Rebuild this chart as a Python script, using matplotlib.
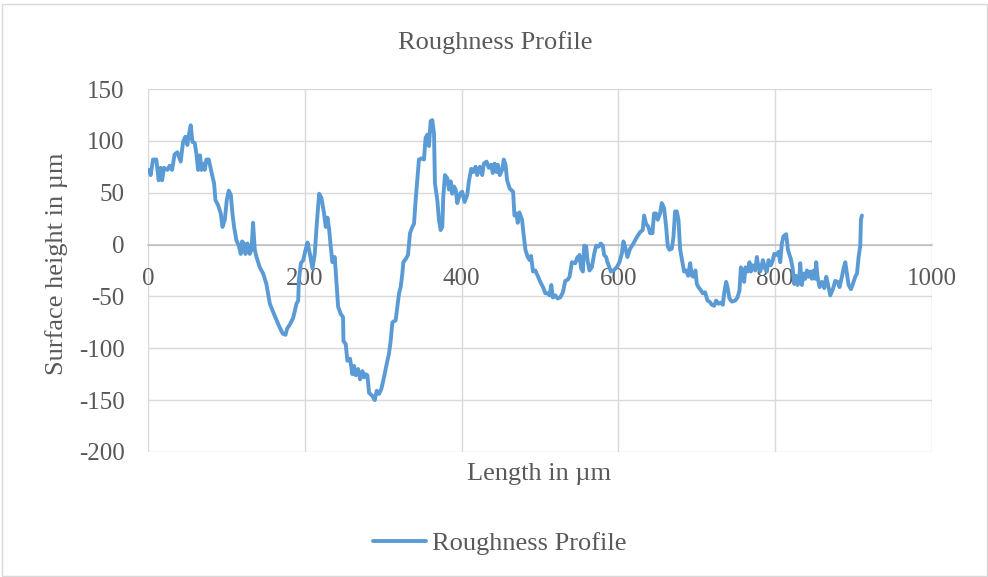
import matplotlib
matplotlib.use("Agg")
from matplotlib import pyplot as plt
from matplotlib.patches import Rectangle

plt.rcParams['font.family'] = ['Liberation Serif', 'DejaVu Serif']
plt.rcParams['axes.unicode_minus'] = False

# profile, in four stretches
x_a = [1, 3.4, 6.4, 10.6, 13.6, 16, 18, 20.4, 24.7, 27.7,
       30.6, 34, 37.5, 41.7, 44.7, 47.7, 50.2, 52.4, 54.5, 56.6,
       59.6, 61.7, 63.9, 66.4, 68, 70.7, 72.4, 74.5, 77.5, 80.9,
       84.3, 86, 89.4, 92.8, 95, 98, 100.5, 103, 105.6, 107.7,
       109.8, 112.8, 115.8, 118.3, 120, 122.6, 124.3, 126.9, 129.8, 132,
       134, 136.2, 138.4, 142.6, 146.9, 151, 155.4, 159.6, 164, 168,
       172, 175.4, 177.5, 181, 185, 187.3, 189.4, 191.6, 192.4, 195]
y_a = [72, 67, 82, 82, 62, 74, 62, 74, 72, 76,
       72, 87, 89, 80, 99, 104, 96, 107, 115, 99,
       98, 88, 72, 86, 72, 78, 72, 82, 82, 70,
       59, 43, 38, 30, 17, 24, 43, 52, 48, 30,
       17, 4, -1, -9, 3, 1, -9, 1, -9, -5,
       21, -5, -12, -22, -28, -38, -57, -65, -73, -80,
       -86, -87, -81, -77, -71, -64, -57, -54, -35, -18]

x_b = [198, 201, 203.5, 206.5, 209.8, 212.7, 215.3, 218.3, 221.2, 224.6,
       226.7, 228.9, 231, 233.1, 235.2, 238.2, 240.3, 242.5, 245.9, 248.8,
       249.3, 252.2, 254.3, 257.7, 260.7, 262.8, 265, 268, 270.5, 273.5,
       275.6, 277.7, 279.8, 282, 286.2, 289.2, 291.7, 294.7, 297.7, 301,
       304.5, 307.4, 309.5, 311.7, 315.9, 318, 320.2, 322.3, 324.4, 325.7,
       328.7, 331.6, 334.2, 337.2, 339.3, 341.4, 343.5, 345.6, 348.6, 352,
       354.1, 356.3, 358.4, 360.5, 362.6, 364.8, 366, 369, 371.1, 373.2,
       375.4, 376.6, 378.8, 381.7, 383.9, 386, 388.1, 390.2, 392.4, 394.5,
       397.9]
y_b = [-15, -5, 2, -9, -23, -9, 20, 49, 45, 30,
       17, 26, 15, -2, -17, -12, -35, -60, -67, -70,
       -93, -96, -112, -110, -125, -117, -126, -120, -130, -122,
       -128, -125, -126, -143, -146, -150, -141, -144, -139, -128,
       -115, -105, -93, -75, -73, -60, -47, -41, -28, -17,
       -14, -10, 11, 17, 20, 43, 62, 82, 83, 82,
       103, 106, 95, 119, 120, 107, 59, 43, 24, 14,
       17, 46, 67, 64, 53, 61, 49, 56, 53, 40,
       49]

x_c = [400.8, 403.8, 407.2, 409.3, 412.3, 414.8, 417.8, 419.9, 423.3, 426.3,
       428.4, 431.8, 434.7, 437.7, 439.8, 442, 444.5, 446.2, 448.7, 451.7,
       453.8, 456, 458, 461.4, 465.7, 467.4, 469.9, 471.6, 473.7, 477.1,
       479.2, 481.4, 484.3, 486.9, 488.6, 491.1, 494.1, 497, 500.4, 503.8,
       506.8, 509.7, 512.3, 514.4, 516.5, 519.5, 522.5, 525.8, 529.2, 532.2,
       535.2, 537.7, 540.7, 544.9, 547.9, 549.2, 550.4, 552.5, 554.7, 556.4,
       558.9, 560.6, 563.1, 566.1, 569.1, 571.6, 574.6, 577.5, 580.1, 581.8,
       584.3, 586, 588.6, 590.3, 593.6, 597.9]
y_c = [51, 41, 48, 61, 73, 70, 75, 67, 75, 67,
       78, 80, 74, 77, 69, 78, 70, 77, 67, 72,
       82, 77, 62, 54, 51, 28, 30, 21, 31, 24,
       9, -5, -12, -15, -11, -26, -25, -30, -36, -41,
       -47, -47, -49, -39, -51, -49, -52, -51, -46, -35,
       -34, -31, -17, -18, -12, -15, -10, -23, -26, -1,
       -2, -15, -25, -22, -9, -1, -2, 1, -1, -10,
       -12, -17, -22, -26, -25, -22]

x_d = [601.3, 604.3, 606.4, 608.5, 611.5, 614.9, 619.1, 623.4, 627.7, 631,
       632.8, 635.3, 638.3, 640.4, 643.4, 645.5, 648.1, 650.2, 653.2, 655.3,
       658.3, 660.9, 663, 665.1, 668.1, 670.2, 672.3, 674.5, 676.6, 678.7,
       680.9, 683.8, 686.4, 688.9, 691.5, 693.6, 695.7, 698.3, 700, 702.1,
       705.1, 707.7, 710.6, 713.6, 716.2, 719.1, 722.1, 724.7, 727.7, 730.6,
       733.2, 734.9, 737.4, 739.1, 741.7, 744.7, 748.9, 751.9, 754.5, 756.2,
       758.7, 760.4, 762.1, 764.7, 767.2, 768.9, 771.5, 774.5, 776.6, 778.7,
       780.9, 784.3, 787.2, 789.4, 791.5, 794.5, 797, 798.7, 801.3, 804.3,
       806.4, 808.5, 810.6, 814, 816.2, 818.3, 820, 822.1, 824.3, 826.4,
       828.5, 830.6, 831.9, 834, 836.2, 838.3, 840.4, 842.6, 844.7, 846.8,
       849, 851.1, 852.3, 854, 856.6, 859.6, 862.6, 865.1, 867.2, 870.2,
       873.6, 876.6, 879.6, 882.1, 885.1, 887.2, 889.4, 891.5, 893.6, 896.6,
       899.1, 902.1, 904.3, 906.4, 908.5, 909.4, 910.6]
y_d = [-17, -9, 3, -2, -12, -4, 1, 7, 12, 14,
       28, 20, 17, 11, 11, 30, 30, 24, 30, 40,
       35, 17, -2, -5, -4, 7, 32, 32, 24, -4,
       -14, -26, -25, -30, -18, -30, -31, -25, -38, -41,
       -44, -47, -46, -54, -55, -58, -59, -54, -57, -56,
       -58, -47, -36, -41, -52, -55, -54, -51, -44, -22,
       -26, -36, -22, -26, -17, -26, -20, -25, -12, -22,
       -26, -15, -23, -26, -15, -20, -15, -9, -10, -7,
       -17, 1, 8, 10, -5, -10, -14, -22, -38, -30,
       -39, -35, -18, -39, -28, -33, -25, -31, -26, -33,
       -25, -33, -17, -31, -41, -36, -42, -31, -38, -49,
       -43, -35, -36, -41, -31, -23, -17, -28, -39, -43,
       -38, -31, -28, -12, -1, 24, 28]

x_vals = x_a + x_b + x_c + x_d
y_vals = y_a + y_b + y_c + y_d

x_ticks = [0, 200, 400, 600, 800, 1000]
y_ticks = [150, 100, 50, 0, -50, -100, -150, -200]

txt = '#595959'
grid_c = '#d9d9d9'

W, H = 988, 577
fig = plt.figure(figsize=(W / 100, H / 100), dpi=100)
ax = fig.add_axes([148 / W, 1 - 452 / H, (932 - 148) / W, (452 - 89) / H])

ax.plot(x_vals, y_vals, color='#5b9bd5', lw=2.8, label='Roughness Profile',
        solid_joinstyle='round', solid_capstyle='round', zorder=3)

ax.set_xlim(0, 1000)
ax.set_ylim(-200, 150)
ax.set_xticks(x_ticks)
ax.set_yticks(y_ticks)
ax.grid(True, color=grid_c, lw=1)
ax.set_axisbelow(True)

for s in ['top', 'right', 'left']:
    ax.spines[s].set_visible(False)
ax.spines['bottom'].set_position(('data', 0))
ax.spines['bottom'].set_color('#bfbfbf')
ax.spines['bottom'].set_linewidth(1.2)
ax.spines['bottom'].set_zorder(2)

ax.tick_params(axis='both', length=0, labelsize=18, labelcolor=txt)
ax.tick_params(axis='y', pad=17)
ax.tick_params(axis='x', pad=17)

fig.text(495 / W, 1 - 43 / H, 'Roughness Profile', ha='center', va='center',
         fontsize=19, color=txt)
fig.text(539 / W, 1 - 474 / H, 'Length in µm', ha='center', va='center',
         fontsize=19, color=txt)
fig.text(57 / W, 1 - 264 / H, 'Surface height in µm', ha='center', va='center',
         rotation=90, fontsize=19, color=txt)

fig.legend(loc='center', bbox_to_anchor=(500 / W, 1 - 543 / H), frameon=False,
           fontsize=19, handlelength=2.0, handletextpad=0.25, labelcolor=txt)

fig.patches.append(Rectangle((2 / W, 1 / H), 985 / W, 572 / H, transform=fig.transFigure,
                             fill=False, edgecolor=grid_c, lw=1))

fig.savefig('out.png', dpi=100)
